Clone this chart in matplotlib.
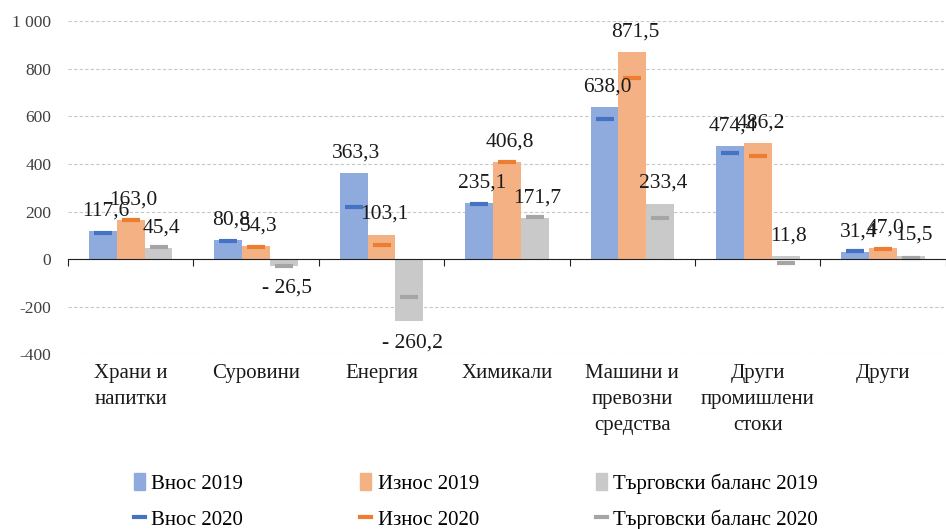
import numpy as np
import matplotlib.pyplot as plt
from matplotlib.lines import Line2D
from matplotlib.patches import Patch
from matplotlib.ticker import FuncFormatter
import matplotlib.transforms as mtransforms

plt.rcParams["font.family"] = ["Liberation Serif", "DejaVu Serif"]

categories = ["Храни и\nнапитки", "Суровини", "Енергия", "Химикали",
              "Машини и\nпревозни\nсредства", "Други\nпромишлени\nстоки", "Други"]
imports_2019 = [117.6, 80.8, 363.3, 235.1, 638.0, 474.4, 31.4]
exports_2019 = [163.0, 54.3, 103.1, 406.8, 871.5, 486.2, 47.0]
balance_2019 = [45.4, -26.5, -260.2, 171.7, 233.4, 11.8, 15.5]
imports_2020 = [111, 77, 218, 231, 587, 445, 35]
exports_2020 = [164, 50, 60, 410, 762, 432, 42]
balance_2020 = [52, -29, -160, 176, 172, -14, 6]

series = [
    ("Внос", imports_2019, imports_2020, "#8FAADC", "#4472C4"),
    ("Износ", exports_2019, exports_2020, "#F4B183", "#ED7D31"),
    ("Търговски баланс", balance_2019, balance_2020, "#C9C9C9", "#A5A5A5"),
]


def fmt_val(v):
    s = f"{abs(v):.1f}".replace(".", ",")
    return f"- {s}" if v < 0 else s


def fmt_tick(v, _):
    v = int(round(v))
    return f"{v:,}".replace(",", " ")


fig = plt.figure(figsize=(9.46, 5.29), dpi=100)
ax = fig.add_axes([0.0719, 0.330, 0.928, 0.630])

x = np.arange(len(categories))
w = 0.222
bar_handles, line_handles = [], []
for i, (name, v19, v20, c_bar, c_line) in enumerate(series):
    xs = x + (i - 1) * w
    ax.bar(xs, v19, width=w, color=c_bar, zorder=2)
    ax.plot(xs, v20, linestyle="none", marker="_", ms=13.5, mew=3,
            color=c_line, zorder=3)
    for xi, v in zip(xs, v19):
        off = 14.5 if v >= 0 else -16
        ax.annotate(fmt_val(v), (xi, v), xytext=(2, off), textcoords="offset points",
                    ha="center", va="center", fontsize=15.5, color="#1a1a1a", zorder=4)
    bar_handles.append(Patch(color=c_bar, label=f"{name} 2019"))
    line_handles.append(Line2D([], [], color=c_line, lw=3, label=f"{name} 2020"))

ax.set_ylim(-400, 1000)
ax.set_xlim(-0.5, 6.47)
ax.set_yticks(np.arange(-400, 1001, 200))
ax.yaxis.set_major_formatter(FuncFormatter(fmt_tick))
ax.tick_params(axis="y", length=0, labelsize=12.5, labelcolor="#404040", pad=12)
ax.grid(axis="y", linestyle=(0, (3, 2)), color="#c8c8c8", lw=0.8, zorder=0)

for s in ["top", "right", "left"]:
    ax.spines[s].set_visible(False)
ax.spines["bottom"].set_position(("data", 0))
ax.spines["bottom"].set_color("#202020")
ax.spines["bottom"].set_zorder(5)
ax.set_xticks(np.arange(-0.5, 6.6, 1.0))
ax.set_xticklabels([])
ax.tick_params(axis="x", direction="out", length=5, color="#202020")

trans = mtransforms.blended_transform_factory(ax.transData, ax.transAxes)
for xi, cat in zip(x, categories):
    ax.text(xi, -0.03, cat, transform=trans, ha="center", va="top",
            fontsize=15, color="#1a1a1a", linespacing=1.5)

handles = []
for b, l in zip(bar_handles, line_handles):
    handles += [b, l]
fig.legend(handles=handles, ncol=3, loc="center", bbox_to_anchor=(0.503, 0.052),
           frameon=False, fontsize=15, handlelength=0.55, handleheight=0.9,
           handletextpad=0.3, columnspacing=5.6, labelspacing=0.75, borderpad=0)

fig.savefig("out.png", dpi=100)
plt.close(fig)
